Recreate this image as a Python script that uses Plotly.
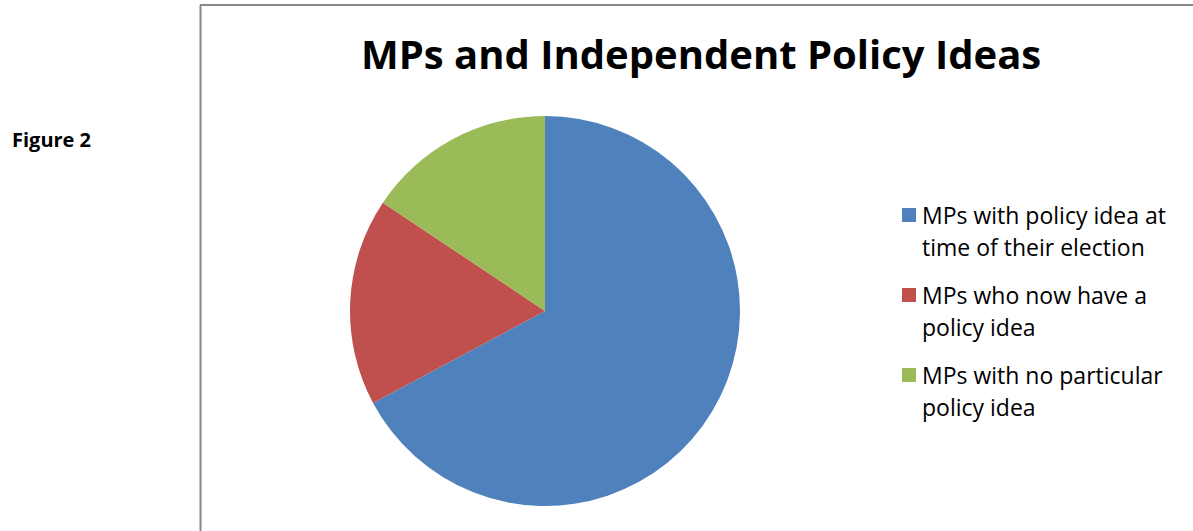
import plotly.graph_objects as go

W, H = 1193, 531

categories = [
    "MPs with policy idea at time of their election",
    "MPs who now have a policy idea",
    "MPs with no particular policy idea",
]
legend_lines = [
    ["MPs with policy idea at", "time of their election"],
    ["MPs who now have a", "policy idea"],
    ["MPs with no particular", "policy idea"],
]
values = [43, 11, 10]
colors = ["#4F81BD", "#C0504D", "#9BBB59"]

title_text = "MPs and Independent Policy Ideas"
side_label = "Figure 2"


def px(x):
    return x / W


def py(y):
    return 1 - y / H


fig = go.Figure()
fig.add_trace(go.Pie(
    labels=categories,
    values=values,
    marker=dict(colors=colors, line=dict(width=0)),
    sort=False,
    direction="clockwise",
    rotation=0,
    textinfo="none",
    hoverinfo="label+value+percent",
    showlegend=False,
    domain=dict(x=[px(350), px(740)], y=[py(506), py(116)]),
))

shapes = [
    dict(type="line", xref="paper", yref="paper",
         x0=px(200.5), x1=px(200.5), y0=py(5), y1=py(560),
         line=dict(color="#878787", width=2)),
    dict(type="line", xref="paper", yref="paper",
         x0=px(200), x1=px(1220), y0=py(5), y1=py(5),
         line=dict(color="#878787", width=2)),
]
annotations = [
    dict(text="<b>" + title_text + "</b>", xref="paper", yref="paper",
         x=px(701), y=py(53), xanchor="center", yanchor="middle",
         showarrow=False, font=dict(family="Open Sans", size=40, color="#000000")),
    dict(text="<b>" + side_label + "</b>", xref="paper", yref="paper",
         x=px(10), y=py(139), xanchor="left", yanchor="middle",
         showarrow=False, font=dict(family="Open Sans", size=20, color="#000000")),
]

item_top = [208, 288, 368]
for i, lines in enumerate(legend_lines):
    t = item_top[i]
    shapes.append(dict(type="rect", xref="paper", yref="paper",
                       x0=px(902), x1=px(916), y0=py(t + 14), y1=py(t),
                       fillcolor=colors[i], line=dict(width=0)))
    for j, ln in enumerate(lines):
        annotations.append(dict(
            text=ln, xref="paper", yref="paper",
            x=px(920), y=py(t + 7 + 32 * j), xanchor="left", yanchor="middle",
            showarrow=False, font=dict(family="Open Sans", size=23, color="#000000")))

fig.update_layout(
    width=W, height=H,
    margin=dict(l=0, r=0, t=0, b=0),
    paper_bgcolor="#ffffff",
    plot_bgcolor="#ffffff",
    shapes=shapes,
    annotations=annotations,
)

fig.write_html("out.html", post_script="document.body.style.margin='0';",
               config={"displayModeBar": False})
